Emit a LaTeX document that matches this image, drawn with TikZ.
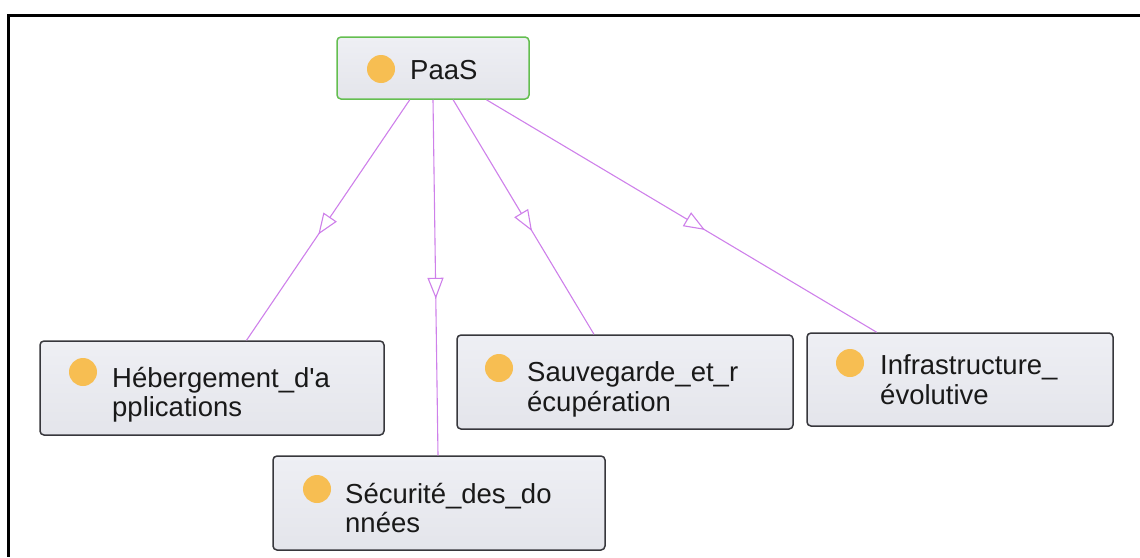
\documentclass[tikz,border=0pt]{standalone}
\usepackage{fontspec}
\setmainfont{Liberation Sans}
\usetikzlibrary{arrows.meta,decorations.markings,calc}
\definecolor{edgec}{RGB}{206,128,234}
\definecolor{boxfill}{RGB}{238,239,244}
\definecolor{boxfillb}{RGB}{228,229,235}
\definecolor{boxline}{RGB}{55,55,60}
\definecolor{paasline}{RGB}{100,190,80}
\definecolor{dotc}{RGB}{247,190,82}
\definecolor{txt}{RGB}{25,25,25}
\tikzset{
  box/.style={draw=boxline, line width=1.5pt, rounded corners=4pt, top color=boxfill, bottom color=boxfillb, inner sep=0pt},
  rootbox/.style={box, draw=paasline},
  dotn/.style={circle, fill=dotc, minimum size=28pt, inner sep=0pt},
  lbl/.style={font=\fontsize{27.5}{30}\selectfont, text=txt, inner sep=0pt, anchor=base west},
  link/.style={draw=edgec, line width=1.1pt, postaction={decorate},
    decoration={markings, mark=at position 0.56 with {\arrow{Triangle[fill=white, length=21pt, width=16pt]}}}},
  frame/.style={line width=3pt, black}
}
\begin{document}
\begin{tikzpicture}[x=1pt, y=-1pt]
\useasboundingbox (0,0) rectangle (1140,557);
% frame
\coordinate (ftl) at (8,15);
\coordinate (ftr) at (1140,15);
\coordinate (fbl) at (8,557);
\draw[frame] (ftr) -- (ftl) -- (fbl);

% PaaS
\node[rootbox, minimum width=192pt, minimum height=62pt] (paas) at (433,68) {};
\node[dotn] (paasdot) at (381,69) {};
\node[lbl] (paast) at (410,79) {PaaS};

% Hebergement
\node[box, minimum width=344pt, minimum height=94pt] (heb) at (212,388) {};
\node[dotn] (hebdot) at (83,372) {};
\node[lbl] (hebt1) at (112,387) {Hébergement\_d\textquotesingle a};
\node[lbl] (hebt2) at (112,416) {pplications};

% Securite
\node[box, minimum width=332pt, minimum height=94pt] (sec) at (439,503) {};
\node[dotn] (secdot) at (317,489) {};
\node[lbl] (sect1) at (345,503) {Sécurité\_des\_do};
\node[lbl] (sect2) at (345,532) {nnées};

% Sauvegarde
\node[box, minimum width=336pt, minimum height=94pt] (sav) at (625,382) {};
\node[dotn] (savdot) at (499,368) {};
\node[lbl] (savt1) at (527,381) {Sauvegarde\_et\_r};
\node[lbl] (savt2) at (527,411) {écupération};

% Infrastructure
\node[box, minimum width=306pt, minimum height=93pt] (inf) at (960,379.5) {};
\node[dotn] (infdot) at (850,363) {};
\node[lbl] (inft1) at (880,374) {Infrastructure\_};
\node[lbl] (inft2) at (880,404) {évolutive};

% links
\draw[link] ($(paas.south west)!0.38!(paas.south east)$) -- ($(heb.north west)!0.6!(heb.north east)$);
\draw[link] ($(paas.south west)!0.5!(paas.south east)$) -- ($(sec.north west)!0.497!(sec.north east)$);
\draw[link] ($(paas.south west)!0.604!(paas.south east)$) -- ($(sav.north west)!0.408!(sav.north east)$);
\draw[link] ($(paas.south west)!0.776!(paas.south east)$) -- ($(inf.north west)!0.229!(inf.north east)$);
\end{tikzpicture}
\end{document}
